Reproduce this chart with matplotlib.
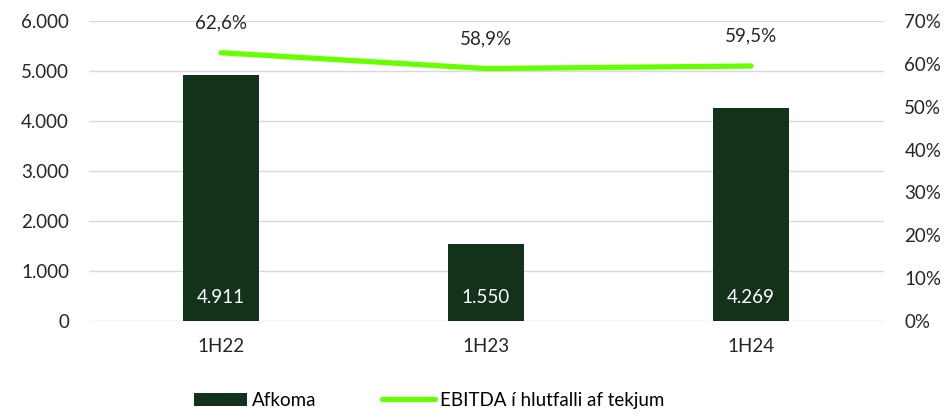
import numpy as np
import matplotlib.pyplot as plt
from matplotlib.ticker import FuncFormatter

plt.rcParams['font.family'] = ['Lato', 'DejaVu Sans']

periods = ['1H22', '1H23', '1H24']
afkoma = [4911, 1550, 4269]
ebitda_pct = [62.6, 58.9, 59.5]

bar_color = '#12331A'
line_color = '#66FF00'

fig = plt.figure(figsize=(9.49, 4.17), dpi=100)
ax = fig.add_axes([0.0933, 0.2302, 0.8377, 0.7194])
ax2 = ax.twinx()

x = np.arange(len(periods))
bars = ax.bar(x, afkoma, width=0.287, color=bar_color, zorder=2, label='Afkoma')
ax.set_xlim(-0.5, len(periods) - 0.5)
ax.set_ylim(0, 6000)
ax.set_yticks(range(0, 6001, 1000))
ax.yaxis.set_major_formatter(FuncFormatter(lambda v, p: f'{int(v):,}'.replace(',', '.')))
ax.grid(axis='y', color='#D9D9D9', linewidth=1, zorder=0)
ax.set_axisbelow(True)
ax.set_xticks(x)
ax.set_xticklabels(periods)

for b, v in zip(bars, afkoma):
    ax.text(b.get_x() + b.get_width() / 2, 480, f'{v:,}'.replace(',', '.'),
            ha='center', va='center', color='white', fontsize=13.5)

line, = ax2.plot(x, ebitda_pct, color=line_color, linewidth=3.8,
                 solid_capstyle='round', label='EBITDA í hlutfalli af tekjum')
ax2.set_ylim(0, 70)
ax2.set_yticks(range(0, 71, 10))
ax2.yaxis.set_major_formatter(FuncFormatter(lambda v, p: f'{int(v)}%'))
for xi, v in zip(x, ebitda_pct):
    ax2.text(xi, v + 5.0, f'{v:.1f}%'.replace('.', ','), ha='center', va='bottom',
             fontsize=13.5, color='#262626')

for a in (ax, ax2):
    for s in a.spines.values():
        s.set_visible(False)
    a.tick_params(length=0, labelsize=13.5, colors='#262626')
ax.tick_params(axis='y', pad=14)
ax.tick_params(axis='x', pad=12)
ax2.tick_params(axis='y', pad=15)

fig.legend([bars, line], ['Afkoma', 'EBITDA í hlutfalli af tekjum'],
           loc='center', bbox_to_anchor=(0.4525, 0.04), ncol=2, frameon=False,
           fontsize=13.5, handlelength=2.8, handletextpad=0.3, columnspacing=3.5)

fig.savefig('out.png', dpi=100)
